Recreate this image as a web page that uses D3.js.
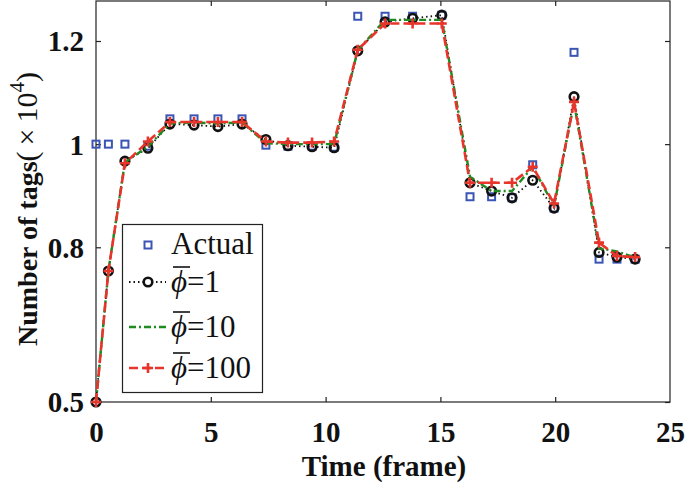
<!DOCTYPE html>
<html>
<head>
<meta charset="utf-8">
<script src="https://cdn.jsdelivr.net/npm/d3@7"></script>
<style>
  html, body { margin: 0; padding: 0; background: #fff; }
  svg { display: block; }
</style>
</head>
<body>
<svg id="chart" width="685" height="486"></svg>
<script>
// ---- data ----
const frames = [0, 0.54, 1.26, 2.26, 3.22, 4.27, 5.31, 6.36, 7.40, 8.36, 9.41, 10.37, 11.4, 12.59, 13.79, 15.06, 16.29, 17.23, 18.12, 19.02, 19.95, 20.82, 21.91, 22.69, 23.48];
const actual = [1.0, 1.0, 1.0, 0.996, 1.049, 1.049, 1.049, 1.049, 0.998, 0.996, 0.996, 0.994, 1.248, 1.248, 1.248, 1.25, 0.898, 0.898, 0.896, 0.96, 0.876, 1.178, 0.777, 0.777, 0.777];
const phi1   = [0.5, 0.754, 0.967, 0.992, 1.039, 1.037, 1.034, 1.039, 1.009, 0.997, 0.995, 0.993, 1.181, 1.237, 1.244, 1.25, 0.925, 0.909, 0.896, 0.93, 0.876, 1.092, 0.79, 0.781, 0.777];
const phi10  = [0.5, 0.754, 0.965, 0.995, 1.04, 1.042, 1.04, 1.042, 1.002, 1.0, 1.0, 1.0, 1.182, 1.241, 1.241, 1.241, 0.937, 0.909, 0.909, 0.956, 0.88, 1.08, 0.798, 0.792, 0.78];
const phi100 = [0.5, 0.754, 0.963, 1.005, 1.043, 1.043, 1.043, 1.043, 1.005, 1.003, 1.003, 1.005, 1.183, 1.234, 1.234, 1.234, 0.925, 0.925, 0.925, 0.956, 0.885, 1.082, 0.809, 0.783, 0.781];
const xTicks = [0, 5, 10, 15, 20, 25];
const yTicks = [0.5, 0.8, 1, 1.2];
const yTickLabels = ["0.5", "0.8", "1", "1.2"];
const legendLabels = ["Actual", "=1", "=10", "=100"];

// ---- layout ----
const svg = d3.select("#chart");
const L = 96, R = 670, T = 1, B = 402;
const x = d3.scaleLinear().domain([0, 25]).range([L, R]);
const y = d3.scaleLinear().domain([0.5, 1.2]).range([B, 41]);

const serif = "'Liberation Serif', 'Times New Roman', 'DejaVu Serif', serif";
const BLUE = "#3a55b4", GREEN = "#1f8a1f", RED = "#e8352b";

// frame
svg.append("rect").attr("x", L).attr("y", T).attr("width", R - L).attr("height", B - T)
  .attr("fill", "none").attr("stroke", "#222").attr("stroke-width", 1.2);

// axes (inward ticks)
const gx = svg.append("g").attr("transform", `translate(0,${B})`)
  .call(d3.axisBottom(x).tickValues(xTicks).tickSize(-5).tickPadding(40).tickFormat(d3.format("d")));
const gxt = svg.append("g").attr("transform", `translate(0,${T})`)
  .call(d3.axisTop(x).tickValues(xTicks).tickSize(-5).tickFormat(""));
const gy = svg.append("g").attr("transform", `translate(${L},0)`)
  .call(d3.axisLeft(y).tickValues(yTicks).tickSize(-5).tickPadding(12).tickFormat((d, i) => yTickLabels[i]));
const gyr = svg.append("g").attr("transform", `translate(${R},0)`)
  .call(d3.axisRight(y).tickValues(yTicks).tickSize(-5).tickFormat(""));
[gx, gxt, gy, gyr].forEach(g => {
  g.select(".domain").remove();
  g.selectAll(".tick line").attr("stroke", "#222").attr("stroke-width", 1.2);
});
gx.selectAll(".tick text").attr("font-family", serif).attr("font-weight", "bold")
  .attr("font-size", 29).attr("fill", "#111").attr("dy", 0);
gy.selectAll(".tick text").attr("font-family", serif).attr("font-weight", "bold")
  .attr("font-size", 29).attr("fill", "#111").attr("dy", "0.34em");
gxt.selectAll(".tick").filter(d => d === 0 || d === 25).remove();
gx.selectAll(".tick line").filter(d => d === 0 || d === 25).remove();

// axis titles
svg.append("text").attr("x", 384).attr("y", 476).attr("text-anchor", "middle")
  .attr("font-family", serif).attr("font-weight", "bold").attr("font-size", 29).attr("fill", "#111")
  .text("Time (frame)");

const yl = svg.append("text").attr("transform", "translate(37,346) rotate(-90)")
  .attr("font-family", serif).attr("fill", "#111");
yl.append("tspan").attr("font-weight", "bold").attr("font-size", 28).text("Number of tags");
yl.append("tspan").attr("font-size", 30).text("(\u2009×\u200910");
yl.append("tspan").attr("font-size", 21).attr("dy", -13).text("4");
yl.append("tspan").attr("font-size", 30).attr("dy", 13).text(")");

// ---- series ----
const line = vals => d3.line().x((d, i) => x(frames[i])).y(d => y(d))(vals);
const plot = svg.append("g");

// actual squares
plot.selectAll("rect.act").data(actual).enter().append("rect")
  .attr("x", (d, i) => x(frames[i]) - 3.5).attr("y", d => y(d) - 3.5)
  .attr("width", 7).attr("height", 7)
  .attr("fill", "none").attr("stroke", BLUE).attr("stroke-width", 2);

// phi = 1 : black dotted + circles
plot.append("path").attr("d", line(phi1)).attr("fill", "none")
  .attr("stroke", "#111").attr("stroke-width", 1.8).attr("stroke-dasharray", "1.5,3");
plot.selectAll("circle.p1").data(phi1).enter().append("circle")
  .attr("cx", (d, i) => x(frames[i])).attr("cy", d => y(d)).attr("r", 4.3)
  .attr("fill", "none").attr("stroke", "#111").attr("stroke-width", 2.6);

// phi = 10 : green dash-dot
plot.append("path").attr("d", line(phi10)).attr("fill", "none")
  .attr("stroke", GREEN).attr("stroke-width", 2.4).attr("stroke-dasharray", "7,3,2,3");

// phi = 100 : red dashed + plus
plot.append("path").attr("d", line(phi100)).attr("fill", "none")
  .attr("stroke", RED).attr("stroke-width", 2.6).attr("stroke-dasharray", "9,4");
const plus = (cx, cy, s) => `M${cx - s},${cy}H${cx + s}M${cx},${cy - s}V${cy + s}`;
plot.selectAll("path.p100").data(phi100).enter().append("path")
  .attr("d", (d, i) => plus(x(frames[i]), y(d), 5))
  .attr("fill", "none").attr("stroke", RED).attr("stroke-width", 2.6);

// ---- legend ----
const lg = svg.append("g");
lg.append("rect").attr("x", 122.5).attr("y", 224.5).attr("width", 140).attr("height", 168)
  .attr("fill", "#fff").attr("stroke", "#222").attr("stroke-width", 1.2);
const rowY = [245, 282, 327, 368];
const lx0 = 129, lx1 = 166, lmx = 148, tx = 171;
lg.append("rect").attr("x", lmx - 3.5).attr("y", rowY[0] - 3.5).attr("width", 7).attr("height", 7)
  .attr("fill", "none").attr("stroke", BLUE).attr("stroke-width", 2);
lg.append("line").attr("x1", lx0).attr("x2", lx1).attr("y1", rowY[1]).attr("y2", rowY[1])
  .attr("stroke", "#111").attr("stroke-width", 1.8).attr("stroke-dasharray", "1.5,3");
lg.append("circle").attr("cx", lmx).attr("cy", rowY[1]).attr("r", 4.3)
  .attr("fill", "#fff").attr("stroke", "#111").attr("stroke-width", 2.6);
lg.append("line").attr("x1", lx0).attr("x2", lx1).attr("y1", rowY[2]).attr("y2", rowY[2])
  .attr("stroke", GREEN).attr("stroke-width", 2.4).attr("stroke-dasharray", "7,3,2,3");
lg.append("line").attr("x1", lx0).attr("x2", lx1).attr("y1", rowY[3]).attr("y2", rowY[3])
  .attr("stroke", RED).attr("stroke-width", 2.6).attr("stroke-dasharray", "9,4");
lg.append("path").attr("d", plus(lmx, rowY[3], 5)).attr("stroke", RED).attr("stroke-width", 2.6);

lg.append("text").attr("x", tx).attr("y", rowY[0] + 9)
  .attr("font-family", serif).attr("font-size", 31).attr("fill", "#111").text(legendLabels[0]);
[1, 2, 3].forEach(k => {
  const t = lg.append("text").attr("x", tx).attr("y", rowY[k] + 10)
    .attr("font-family", serif).attr("font-size", 31).attr("fill", "#111");
  t.append("tspan").attr("font-style", "italic").text("ϕ");
  t.append("tspan").text(legendLabels[k]);
  lg.append("line").attr("x1", tx + 2).attr("x2", tx + 19)
    .attr("y1", rowY[k] - 15).attr("y2", rowY[k] - 15)
    .attr("stroke", "#111").attr("stroke-width", 1.6);
});
</script>
</body>
</html>
